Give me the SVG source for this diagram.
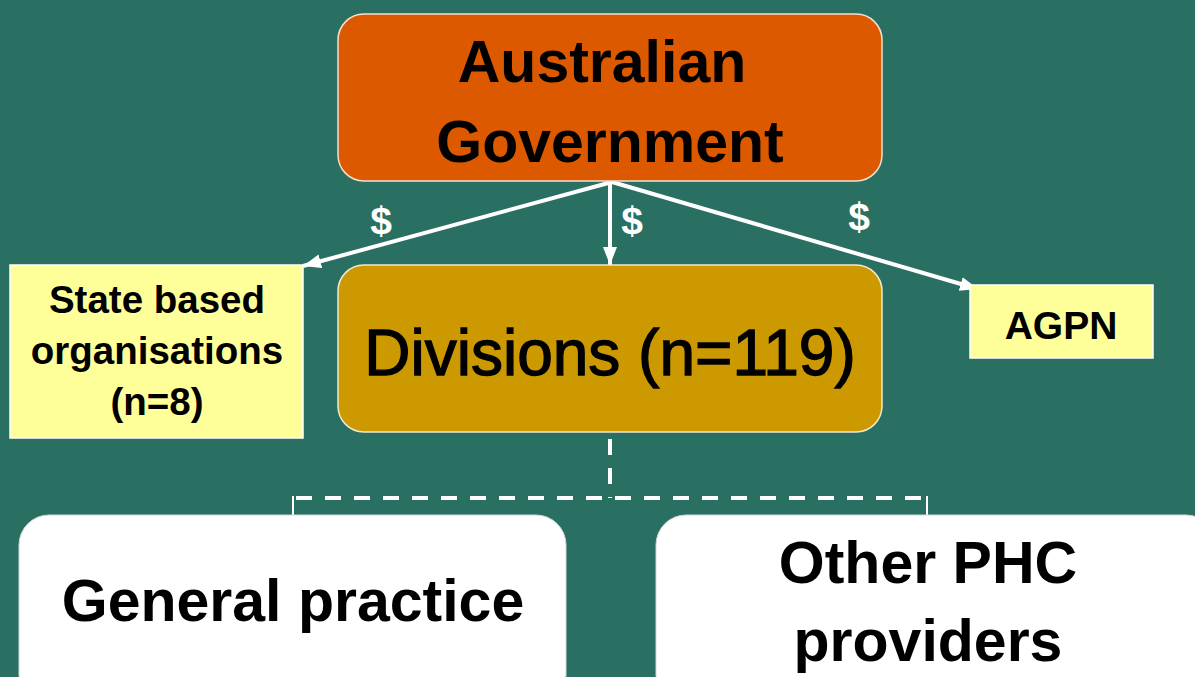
<svg xmlns="http://www.w3.org/2000/svg" width="1195" height="677" viewBox="0 0 1195 677">
<style>
.bg{fill:#2A7062}
.t{font-family:"Liberation Sans",Arial,sans-serif;fill:#000;text-anchor:middle}
.b{font-weight:bold}
.lbl{font-family:"Liberation Sans",Arial,sans-serif;fill:#fff;text-anchor:middle;font-size:39px;font-weight:bold}
.arrow{stroke:#fff;stroke-width:4;fill:none}
.dash{stroke:#fff;stroke-width:4;fill:none;stroke-dasharray:16 13}
.tick{stroke:#fff;stroke-width:2;fill:none}
</style>
<defs>
<marker id="ah" markerUnits="userSpaceOnUse" markerWidth="20" markerHeight="16" refX="18" refY="7" orient="auto">
<path d="M0,0 L18,7 L0,14 Z" fill="#fff"/>
</marker>
</defs>
<rect class="bg" x="0" y="0" width="1195" height="677"/>
<g id="connectors">
<line class="arrow" x1="612" y1="182" x2="303" y2="266" marker-end="url(#ah)"/>
<line class="arrow" x1="610" y1="182" x2="610" y2="265" marker-end="url(#ah)"/>
<line class="arrow" x1="612" y1="182" x2="978" y2="289" marker-end="url(#ah)"/>
<text class="lbl" x="381" y="234">$</text>
<text class="lbl" x="632" y="234">$</text>
<text class="lbl" x="859" y="230">$</text>
<path class="dash" d="M610,439 V498"/>
<path class="dash" d="M296,498 H928"/>
<path class="tick" d="M293,496 V516 M927,496 V516"/>
</g>
<g id="gov">
<rect x="338" y="14" width="544" height="167" rx="26" fill="#DD5900" stroke="#f4e0d0" stroke-width="1.5"/>
<text class="t b" x="602" y="82" font-size="59">Australian</text>
<text class="t b" x="610" y="162" font-size="59">Government</text>
</g>
<g id="state">
<rect x="10" y="265" width="293" height="173" fill="#FFFF99" stroke="#fff" stroke-width="1.5"/>
<text class="t b" x="157" y="313" font-size="38.5">State based</text>
<text class="t b" x="157" y="364" font-size="38.5">organisations</text>
<text class="t b" x="157" y="415" font-size="38.5">(n=8)</text>
</g>
<g id="divisions">
<rect x="338" y="265" width="544" height="167" rx="26" fill="#CC9900" stroke="#f0e8d0" stroke-width="1.5"/>
<text class="t" x="610" y="375" font-size="64" stroke="#000" stroke-width="1.3">Divisions (n=119)</text>
</g>
<g id="agpn">
<rect x="970" y="285" width="183" height="73" fill="#FFFF99" stroke="#fff" stroke-width="1.5"/>
<text class="t b" x="1061" y="339" font-size="39">AGPN</text>
</g>
<g id="gp">
<rect x="19" y="515" width="547" height="190" rx="30" fill="#fff" stroke="#cfd8d4" stroke-width="1"/>
<text class="t b" x="293" y="621" font-size="59">General practice</text>
</g>
<g id="phc">
<rect x="656" y="515" width="560" height="190" rx="30" fill="#fff" stroke="#cfd8d4" stroke-width="1"/>
<text class="t b" x="928" y="583" font-size="59">Other PHC</text>
<text class="t b" x="928" y="661" font-size="59">providers</text>
</g>
</svg>
